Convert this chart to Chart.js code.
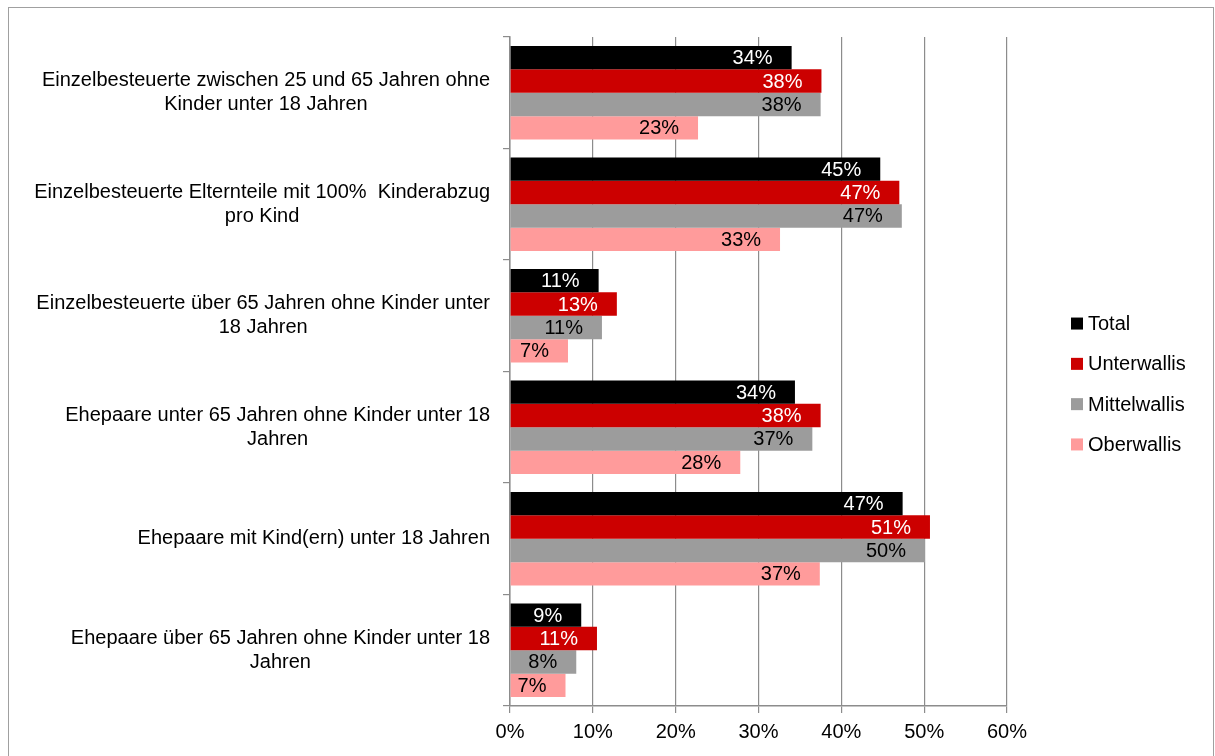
<!DOCTYPE html>
<html>
<head>
<meta charset="utf-8">
<script src="https://cdn.jsdelivr.net/npm/chart.js@4"></script>
<style>
    html, body { margin: 0; padding: 0; background: #fff; }
    #wrap { position: relative; width: 1215px; height: 756px; overflow: hidden; }
    #frame {
        position: absolute; left: 8px; top: 7px; width: 1204px; height: 800px;
        border: 1px solid #a0a0a0; pointer-events: none;
    }
</style>
</head>
<body>
<div id="wrap">
    <canvas id="chart" width="1215" height="756"></canvas>
    <div id="frame"></div>
</div>
<script>
const CATEGORIES = [
    ['Einzelbesteuerte zwischen 25 und 65 Jahren ohne', 'Kinder unter 18 Jahren'],
    ['Einzelbesteuerte Elternteile mit 100%  Kinderabzug', 'pro Kind'],
    ['Einzelbesteuerte über 65 Jahren ohne Kinder unter', '18 Jahren'],
    ['Ehepaare unter 65 Jahren ohne Kinder unter 18', 'Jahren'],
    ['Ehepaare mit Kind(ern) unter 18 Jahren'],
    ['Ehepaare über 65 Jahren ohne Kinder unter 18', 'Jahren'],
];

const SERIES_NAMES = ['Total', 'Unterwallis', 'Mittelwallis', 'Oberwallis'];
const SERIES_COLORS = ['#000000', '#cc0000', '#9c9c9c', '#ff9b9b'];
const LABEL_COLORS = ['#ffffff', '#ffffff', '#000000', '#000000'];

const total = [34.0, 44.7, 10.7, 34.4, 47.4, 8.6];
const unterwallis = [37.6, 47.0, 12.9, 37.5, 50.7, 10.5];
const mittelwallis = [37.5, 47.3, 11.1, 36.5, 50.1, 8.0];
const oberwallis = [22.7, 32.6, 7.0, 27.8, 37.4, 6.7];

const X_TICKS = [0, 10, 20, 30, 40, 50, 60];

const FONT = '"Liberation Sans", Arial, sans-serif';
const AXIS_GREY = '#8c8c8c';

// value labels inside the bar end
const valueLabels = {
    id: 'valueLabels',
    afterDatasetsDraw(chart) {
        const ctx = chart.ctx;
        ctx.save();
        ctx.font = '20px ' + FONT;
        ctx.textAlign = 'right';
        ctx.textBaseline = 'middle';
        chart.data.datasets.forEach((ds, i) => {
            chart.getDatasetMeta(i).data.forEach((bar, j) => {
                ctx.fillStyle = LABEL_COLORS[i];
                ctx.fillText(Math.round(ds.data[j]) + '%', bar.x - 19, bar.y + 1);
            });
        });
        ctx.restore();
    }
};

// category labels: block right-aligned, lines centred to each other
const categoryLabels = {
    id: 'categoryLabels',
    afterDraw(chart) {
        const ctx = chart.ctx;
        const y = chart.scales.y;
        ctx.save();
        ctx.font = '20px ' + FONT;
        ctx.fillStyle = '#000';
        ctx.textAlign = 'center';
        ctx.textBaseline = 'middle';
        CATEGORIES.forEach((lines, i) => {
            const widest = Math.max(...lines.map(l => ctx.measureText(l).width));
            const cx = y.right - 20 - widest / 2;
            const cy = y.getPixelForValue(i);
            lines.forEach((l, k) => {
                ctx.fillText(l, cx, cy + (k - (lines.length - 1) / 2) * 24);
            });
        });
        ctx.restore();
    }
};

// legend on the right, Excel style (small square, tight gap)
const sideLegend = {
    id: 'sideLegend',
    afterDraw(chart) {
        const ctx = chart.ctx;
        const area = chart.chartArea;
        const step = 40.3;
        const x = area.right + 64;
        const y0 = (area.top + area.bottom) / 2 + 12.5 - step * (SERIES_NAMES.length - 1) / 2;
        ctx.save();
        ctx.font = '20px ' + FONT;
        ctx.textAlign = 'left';
        ctx.textBaseline = 'middle';
        SERIES_NAMES.forEach((name, i) => {
            const cy = y0 + i * step;
            ctx.fillStyle = SERIES_COLORS[i];
            ctx.fillRect(x, cy - 6, 12, 12);
            ctx.fillStyle = '#000';
            ctx.fillText(name, x + 17, cy + 1);
        });
        ctx.restore();
    }
};

const datasets = [total, unterwallis, mittelwallis, oberwallis].map((d, i) => ({
    label: SERIES_NAMES[i],
    data: d,
    backgroundColor: SERIES_COLORS[i],
    borderWidth: 0,
    categoryPercentage: 0.84,
    barPercentage: 1.0
}));

new Chart(document.getElementById('chart'), {
    type: 'bar',
    data: {
        labels: CATEGORIES.map(l => l.join(' ')),
        datasets: datasets
    },
    options: {
        indexAxis: 'y',
        responsive: false,
        animation: false,
        layout: { padding: { top: 37, bottom: 5, left: 0, right: 208 } },
        plugins: {
            legend: { display: false },
            tooltip: { enabled: false }
        },
        scales: {
            x: {
                min: 0,
                max: 60,
                afterBuildTicks: scale => { scale.ticks = X_TICKS.map(v => ({ value: v })); },
                ticks: {
                    color: '#000',
                    font: { size: 20, family: FONT },
                    padding: 7,
                    callback: v => v + '%'
                },
                grid: { color: AXIS_GREY, lineWidth: 1.2, tickLength: 7 },
                border: { color: AXIS_GREY, width: 1.5 }
            },
            y: {
                ticks: { display: false },
                grid: { drawOnChartArea: false, color: AXIS_GREY, tickLength: 7, lineWidth: 1.2 },
                border: { color: AXIS_GREY, width: 1.5 },
                afterFit: scale => { scale.width = 510; }
            }
        }
    },
    plugins: [valueLabels, categoryLabels, sideLegend]
});
</script>
</body>
</html>
